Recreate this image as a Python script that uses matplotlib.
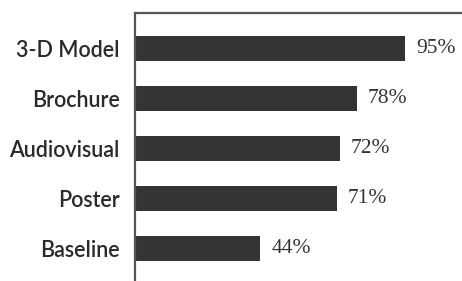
import numpy as np
import matplotlib.pyplot as plt

# data
categories = ["3-D Model", "Brochure", "Audiovisual", "Poster", "Baseline"]
values = [95, 78, 72, 71, 44]
value_labels = ["95%", "78%", "72%", "71%", "44%"]

bar_color = "#353334"
spine_color = "#555555"

fig = plt.figure(figsize=(4.62, 2.81), dpi=100)
ax = fig.add_axes([135 / 462, 0.0, 327 / 462, 268 / 281])

y = np.arange(len(categories))
ax.barh(y, values, height=0.5, color=bar_color)

for yi, v, lab in zip(y, values, value_labels):
    ax.text(v + 3.9, yi, lab, va="center", ha="left",
            fontsize=15.5, family="Liberation Serif", color="#333333")

ax.set_xlim(0, 115)
ax.set_ylim(4.65, -0.71)
ax.set_yticks(y)
ax.set_yticklabels(categories, fontsize=15.5, family="Lato",
                   fontweight="semibold", color="#2a2a2a")
ax.tick_params(axis="y", length=0, pad=11)
ax.set_xticks([])

ax.spines["right"].set_visible(False)
ax.spines["bottom"].set_visible(False)
for s in ("left", "top"):
    ax.spines[s].set_color(spine_color)
    ax.spines[s].set_linewidth(1.6)

fig.savefig("out.png", dpi=100)
